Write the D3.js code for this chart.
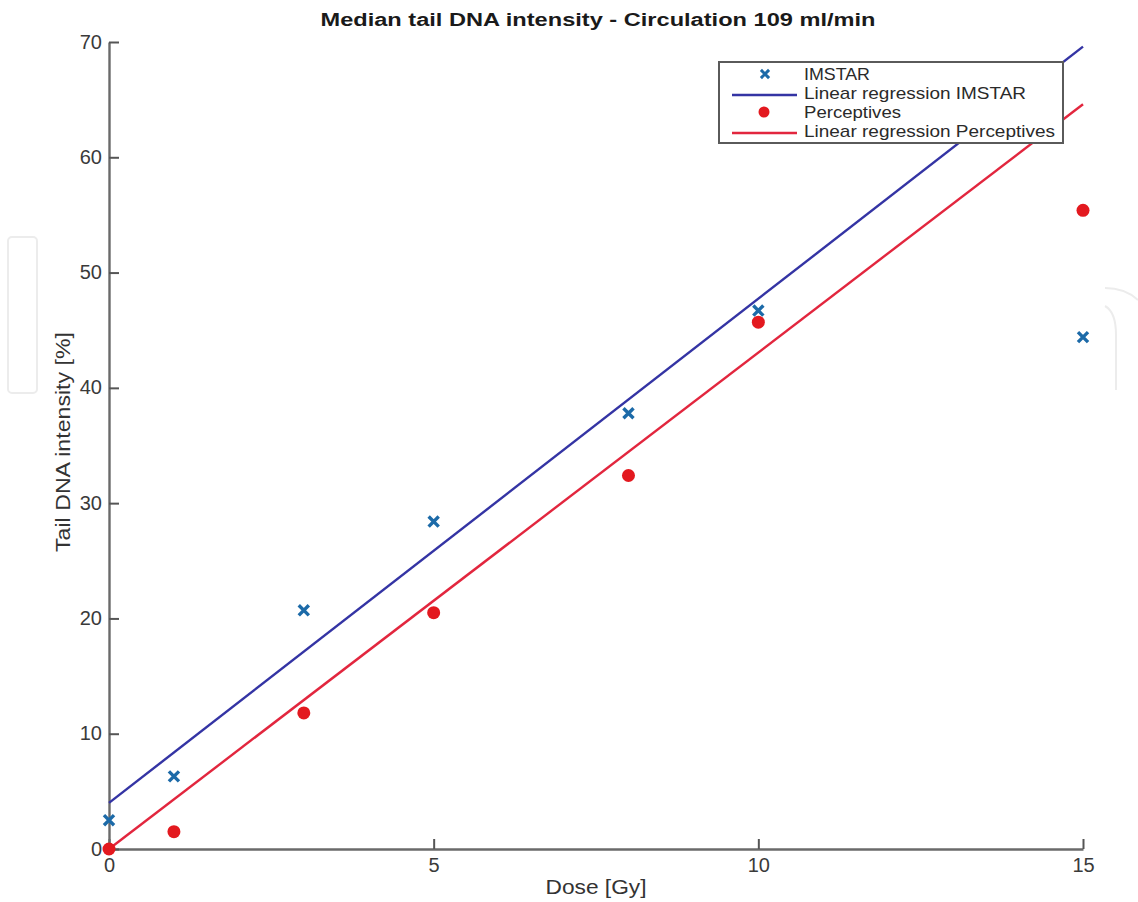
<!DOCTYPE html>
<html>
<head>
<meta charset="utf-8">
<script src="https://cdn.jsdelivr.net/npm/d3@7"></script>
<style>
  body { margin: 0; background: #fff; }
  svg text { font-family: "Liberation Sans", Arial, sans-serif; }
</style>
</head>
<body>
<div id="chart"></div>
<script>
// data
var doses = [0, 1, 3, 5, 8, 10, 15];
var imstar = [2.5, 6.3, 20.7, 28.4, 37.8, 46.7, 44.4];
var perceptives = [0, 1.5, 11.8, 20.5, 32.4, 45.7, 55.4];
// regression lines, value at dose 0 and dose 15
var fitDoses = [0, 15];
var fitImstar = [4.0, 69.6];
var fitPerceptives = [0, 64.6];
var xTicks = [0, 5, 10, 15];
var yTicks = [0, 10, 20, 30, 40, 50, 60, 70];

var W = 1138, H = 902;
var margin = { top: 42, right: 55, bottom: 53, left: 109 };

var svg = d3.select("#chart").append("svg")
  .attr("width", W)
  .attr("height", H);

var x = d3.scaleLinear().domain([0, 15]).range([margin.left, W - margin.right]);
var y = d3.scaleLinear().domain([0, 70]).range([H - margin.bottom, margin.top]);

// faint overlay shapes from the source page
svg.append("rect")
  .attr("x", 8).attr("y", 237).attr("width", 29).attr("height", 156)
  .attr("rx", 4)
  .attr("fill", "none").attr("stroke", "#ececec").attr("stroke-width", 2);
svg.append("path")
  .attr("d", "M1105,288 Q1125,288 1138,300 M1105,306 Q1116,312 1116,335 L1116,390")
  .attr("fill", "none").attr("stroke", "#ececec").attr("stroke-width", 2);

// axes
var xAxis = d3.axisBottom(x).tickValues(xTicks).tickSizeInner(-10).tickSizeOuter(0).tickPadding(13);
var yAxis = d3.axisLeft(y).tickValues(yTicks).tickSizeInner(-10).tickSizeOuter(0).tickPadding(17);

var gx = svg.append("g")
  .attr("transform", "translate(0," + (H - margin.bottom) + ")")
  .call(xAxis);
var gy = svg.append("g")
  .attr("transform", "translate(" + margin.left + ",0)")
  .call(yAxis);

[gx, gy].forEach(function (g) {
  g.select(".domain").attr("stroke", "#6a6a6a").attr("stroke-width", 2.4);
  g.selectAll(".tick line").attr("stroke", "#555").attr("stroke-width", 2);
  g.selectAll(".tick text")
    .attr("fill", "#3a3a3a")
    .style("font-size", "20px");
});
gx.selectAll(".tick text").attr("dy", "0.5em");
gy.selectAll(".tick text").attr("dx", "10px").attr("dy", "0.3em");

// titles
svg.append("text")
  .attr("x", 598).attr("y", 26)
  .attr("text-anchor", "middle")
  .attr("textLength", 555).attr("lengthAdjust", "spacingAndGlyphs")
  .style("font-size", "18px").style("font-weight", "bold")
  .attr("fill", "#1a1a1a")
  .text("Median tail DNA intensity - Circulation 109 ml/min");

svg.append("text")
  .attr("x", 596).attr("y", 894)
  .attr("text-anchor", "middle")
  .attr("textLength", 101).attr("lengthAdjust", "spacingAndGlyphs")
  .style("font-size", "20px")
  .attr("fill", "#333")
  .text("Dose [Gy]");

svg.append("text")
  .attr("transform", "translate(70,442) rotate(-90)")
  .attr("text-anchor", "middle")
  .attr("textLength", 220).attr("lengthAdjust", "spacingAndGlyphs")
  .style("font-size", "20px")
  .attr("fill", "#333")
  .text("Tail DNA intensity [%]");

// regression lines
var line = d3.line()
  .x(function (d) { return x(d[0]); })
  .y(function (d) { return y(d[1]); });

svg.append("path")
  .datum(d3.zip(fitDoses, fitImstar))
  .attr("d", line)
  .attr("fill", "none").attr("stroke", "#3434a4").attr("stroke-width", 2.4);

svg.append("path")
  .datum(d3.zip(fitDoses, fitPerceptives))
  .attr("d", line)
  .attr("fill", "none").attr("stroke", "#e2263e").attr("stroke-width", 2.4);

// markers
var cross = d3.symbol().type(d3.symbolX).size(68);

svg.selectAll(".pdot")
  .data(d3.zip(doses, perceptives))
  .enter().append("circle")
  .attr("class", "pdot")
  .attr("cx", function (d) { return x(d[0]); })
  .attr("cy", function (d) { return y(d[1]); })
  .attr("r", 6.5)
  .attr("fill", "#e3191f");

svg.selectAll(".icross")
  .data(d3.zip(doses, imstar))
  .enter().append("path")
  .attr("class", "icross")
  .attr("d", cross)
  .attr("transform", function (d) { return "translate(" + x(d[0]) + "," + y(d[1]) + ")"; })
  .attr("fill", "none")
  .attr("stroke", "#1c6aa8")
  .attr("stroke-width", 3.4);

// legend
var lg = svg.append("g");
lg.append("rect")
  .attr("x", 719).attr("y", 62).attr("width", 344).attr("height", 81)
  .attr("fill", "#fff").attr("stroke", "#5a5a5a").attr("stroke-width", 2);

var legendItems = [
  { label: "IMSTAR", kind: "cross", color: "#1c6aa8", len: 66 },
  { label: "Linear regression IMSTAR", kind: "line", color: "#3434a4", len: 222 },
  { label: "Perceptives", kind: "dot", color: "#e3191f", len: 97 },
  { label: "Linear regression Perceptives", kind: "line", color: "#e2263e", len: 251 }
];

legendItems.forEach(function (it, i) {
  var cy = 74 + i * 19;
  if (it.kind === "line") {
    lg.append("line")
      .attr("x1", 732).attr("x2", 797).attr("y1", cy + 2).attr("y2", cy + 2)
      .attr("stroke", it.color).attr("stroke-width", 2.4);
  } else if (it.kind === "dot") {
    lg.append("circle").attr("cx", 764).attr("cy", cy).attr("r", 5.5).attr("fill", it.color);
  } else {
    lg.append("path").attr("d", d3.symbol().type(d3.symbolX).size(45))
      .attr("transform", "translate(765," + cy + ")")
      .attr("fill", "none").attr("stroke", it.color).attr("stroke-width", 3);
  }
  lg.append("text")
    .attr("x", 804).attr("y", cy + 6)
    .attr("textLength", it.len).attr("lengthAdjust", "spacingAndGlyphs")
    .style("font-size", "17px")
    .attr("fill", "#2a2a2a")
    .text(it.label);
});
</script>
</body>
</html>
